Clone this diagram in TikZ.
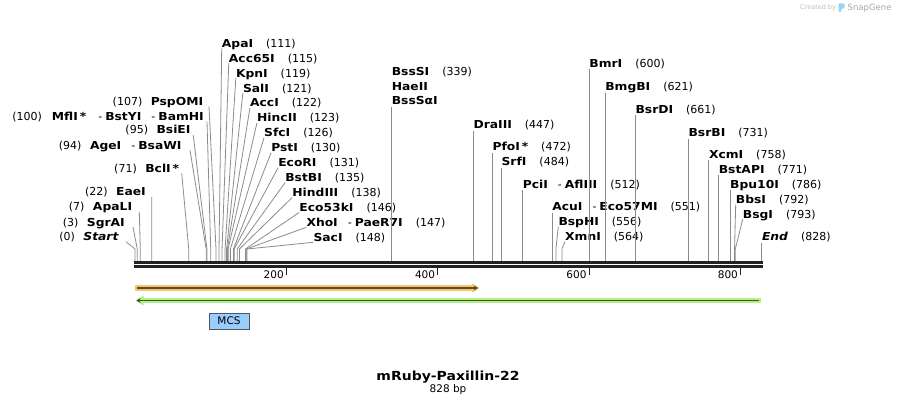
\documentclass[tikz,border=0pt]{standalone}
\usepackage{fontspec}
\setmainfont{DejaVu Sans}[ItalicFont={DejaVu Sans Oblique}, BoldFont={DejaVu Sans Bold}, BoldItalicFont={DejaVu Sans Bold Oblique}, BoldFeatures={FakeStretch=1.12}, BoldItalicFeatures={FakeStretch=1.12}]
\usetikzlibrary{arrows.meta}
\definecolor{leadergray}{HTML}{8C8C8C}
\definecolor{seqc}{HTML}{222222}
\definecolor{orangeL}{HTML}{F9C46B}
\definecolor{orangeD}{HTML}{5A4A30}
\definecolor{greenL}{HTML}{B4F082}
\definecolor{greenD}{HTML}{3F5535}
\definecolor{mcsblue}{HTML}{99CCFF}
\definecolor{mcsborder}{HTML}{555555}
\definecolor{wmgray}{HTML}{BDBDBD}
\definecolor{wmgrayB}{HTML}{A8A8A8}
\definecolor{snapblue}{HTML}{9CD3F2}
\newcommand{\labfont}{\fontsize{11}{13}\selectfont}
\newcommand{\nm}[1]{\textbf{#1}}
\newcommand{\gapL}{\hspace{8.5pt}}
\newcommand{\gapR}{\hspace{13pt}}
\newcommand{\dsh}{\hspace{10pt}-\hspace{3pt}}
% left-side label: name, x-right, baseline, site, dx, text
\newcommand{\llab}[6]{%
  \node[lab, anchor=base east] (#1) at (#2,#3) {#6};
  \coordinate (#1k) at ({135+0.757*#4},249);
  \coordinate (#1s) at ({135+0.757*#4},261);
  \draw[leader] ([xshift=#5pt,yshift=-1pt]#1.base east) -- (#1k) -- (#1s);
}
% right-side label: name, x-left, baseline, site, text
\newcommand{\rlab}[5]{%
  \node[lab, anchor=base west] (#1) at (#2,#3) {#5};
  \coordinate (#1k) at ({135+0.757*#4},249);
  \coordinate (#1s) at ({135+0.757*#4},261);
  \draw[leader] ([yshift=-1pt]#1.base west) -- (#1k) -- (#1s);
}
% vertical label: name, baseline, site, text
\newcommand{\vlab}[4]{%
  \node[lab, anchor=base west] (#1) at ({135+0.757*#3},#2) {#4};
  \coordinate (#1s) at ({135+0.757*#3},261);
  \draw[leader] ([yshift=-2pt]#1.base west) -- (#1s);
}
\begin{document}
\begin{tikzpicture}[x=1pt,y=-1pt,
  lab/.style={inner sep=0pt, font=\labfont, text=black},
  leader/.style={draw=leadergray, line width=0.8pt},
  ticks/.style={draw=seqc, line width=1.3pt},
  ticklab/.style={inner sep=0pt, font=\fontsize{10.5}{12}\selectfont, text=black},
  mcsbox/.style={draw=mcsborder, line width=0.8pt, fill=mcsblue, minimum width=40pt, minimum height=16pt, inner sep=0pt, font=\fontsize{10.5}{12}\selectfont}
]
\useasboundingbox (0,0) rectangle (897,406);
\fill[white] (0,0) rectangle (897,406);

% left labels
\llab{start}{119}{240.7}{0}{7}{(0)\gapL\textbf{\textit{Start}}}
\llab{sgrai}{125}{226}{3}{8}{(3)\gapL\nm{SgrAI}}
\llab{apali}{132.3}{211}{7}{7}{(7)\gapL\nm{ApaLI}}
\llab{eaei}{146}{196}{22}{5.7}{(22)\gapL\nm{EaeI}}
\llab{bcli}{179.3}{172.3}{71}{2.4}{(71)\gapL\nm{BclI\,*}}
\llab{agei}{181.7}{149.3}{94}{8.3}{(94)\gapL\nm{AgeI}\dsh\nm{BsaWI}}
\llab{bsiei}{190.7}{134}{95}{2.5}{(95)\gapL\nm{BsiEI}}
\llab{mfli}{204}{120.7}{100}{3}{(100)\hspace{10pt}\nm{MflI\hspace{2pt}*}\hspace{12pt}-\hspace{3pt}\nm{BstYI}\hspace{10pt}-\hspace{3pt}\nm{BamHI}}
\llab{pspomi}{203.3}{105.5}{107}{5.7}{(107)\gapL\nm{PspOMI}}

% right cluster
\rlab{apai}{221.7}{47.3}{111}{\nm{ApaI}\gapR(111)}
\rlab{acc65i}{228.75}{62.2}{115}{\nm{Acc65I}\gapR(115)}
\rlab{kpni}{235.8}{77.1}{119}{\nm{KpnI}\gapR(119)}
\rlab{sali}{242.85}{92.1}{121}{\nm{SalI}\gapR(121)}
\rlab{acci}{249.9}{107}{122}{\nm{AccI}\gapR(122)}
\rlab{hincii}{256.95}{121.9}{123}{\nm{HincII}\gapR(123)}
\rlab{sfci}{264}{136.8}{126}{\nm{SfcI}\gapR(126)}
\rlab{psti}{271.05}{151.7}{130}{\nm{PstI}\gapR(130)}
\rlab{ecori}{278.1}{166.7}{131}{\nm{EcoRI}\gapR(131)}
\rlab{bstbi}{285.15}{181.6}{135}{\nm{BstBI}\gapR(135)}
\rlab{hindiii}{292.2}{196.5}{138}{\nm{HindIII}\gapR(138)}
\rlab{eco53ki}{299.25}{211.4}{146}{\nm{Eco53kI}\gapR(146)}
\rlab{xhoi}{306.3}{226.3}{147}{\nm{XhoI}\dsh\nm{PaeR7I}\gapR(147)}
\rlab{saci}{313.35}{241.3}{148}{\nm{SacI}\gapR(148)}

% middle
\node[lab, anchor=base west] (bsssi) at ({135+0.757*339},76) {\nm{BssSI}\gapR(339)};
\node[lab, anchor=base west] (haeii) at ({135+0.757*339},90.7) {\nm{HaeII}};
\vlab{bsssai}{105}{339}{\nm{BssSαI}}
\vlab{draiii}{129}{447}{\nm{DraIII}\gapR(447)}
\vlab{pfoi}{151}{472}{\nm{PfoI\,*}\gapR(472)}
\vlab{srfi}{166}{484}{\nm{SrfI}\gapR(484)}
\vlab{pcii}{188.3}{512}{\nm{PciI}\dsh\nm{AflIII}\gapR(512)}
\vlab{acui}{210.7}{551}{\nm{AcuI}\dsh\nm{Eco57MI}\gapR(551)}
\rlab{bsphi}{558.3}{225.7}{556}{\nm{BspHI}\gapR(556)}
\rlab{xmni}{565}{240.7}{564}{\nm{XmnI}\gapR(564)}

% right
\vlab{bmri}{67.3}{600}{\nm{BmrI}\gapR(600)}
\vlab{bmgbi}{90.7}{621}{\nm{BmgBI}\gapR(621)}
\vlab{bsrdi}{113.3}{661}{\nm{BsrDI}\gapR(661)}
\vlab{bsrbi}{136.7}{731}{\nm{BsrBI}\gapR(731)}
\vlab{xcmi}{158.3}{758}{\nm{XcmI}\gapR(758)}
\vlab{bstapi}{173.3}{771}{\nm{BstAPI}\gapR(771)}
\vlab{bpuxi}{188.3}{786}{\nm{Bpu10I}\gapR(786)}
\rlab{bbsi}{735.7}{203.3}{792}{\nm{BbsI}\gapR(792)}
\rlab{bsgi}{742.7}{218.3}{793}{\nm{BsgI}\gapR(793)}
\vlab{endl}{240.7}{828}{\textbf{\textit{End}}\gapR(828)}

% sequence bars
\draw[seqc, line width=3pt] (134,262.5) -- (762.7,262.5);
\draw[seqc, line width=2.6pt] (134,266.4) -- (762.7,266.4);

% ticks
\foreach \t in {200,400,600,800} {
  \coordinate (tk\t) at ({135+0.757*\t},267.5);
  \draw[ticks] (tk\t) -- ++(0,7.5);
  \node[ticklab, anchor=base east] (tl\t) at ({135+0.757*\t-2.5},278) {\t};
}

% orange feature (forward)
\draw[orangeL, line width=5.6pt] (135,288) -- (472.5,288);
\fill[orangeL] (472,283.3) -- (479.5,288) -- (472,292.7) -- cycle;
\draw[orangeD, line width=1.6pt, -{Stealth[length=4pt,width=5pt]}] (137,288) -- (478,288);

% green feature (reverse)
\draw[greenL, line width=5.6pt] (143,300.5) -- (760.5,300.5);
\fill[greenL] (143.5,295.5) -- (135.5,300.5) -- (143.5,305.5) -- cycle;
\draw[greenD, line width=1.6pt, -{Stealth[length=4pt,width=5pt]}] (759,300.5) -- (136.5,300.5);

% MCS
\node[mcsbox] (mcs) at (229,321) {MCS};

% title
\node[inner sep=0pt, anchor=base, font=\fontsize{12.5}{15}\selectfont\bfseries] (title) at (448,380) {mRuby-Paxillin-22};
\node[inner sep=0pt, anchor=base, font=\fontsize{10.5}{12}\selectfont] (len) at (448,392) {828 bp};

% watermark
\node[inner sep=0pt, anchor=base west, font=\fontsize{6.5}{8}\selectfont, text=wmgray] (cby) at (800,10) {Created by};
\fill[snapblue, rounded corners=0.8pt] (838.5,12) -- (838.5,3.5) -- (844.5,3.5) -- (844.5,7.8) -- (841.2,9.2) -- (841.2,12) -- cycle;
\node[inner sep=0pt, anchor=base west, font=\fontsize{8.5}{10}\selectfont, text=wmgrayB] (sgn) at (847.5,10.5) {SnapGene};
\end{tikzpicture}
\end{document}
